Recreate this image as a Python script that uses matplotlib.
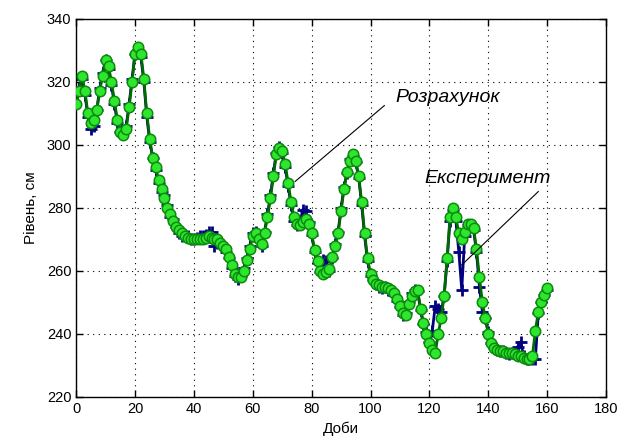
import matplotlib
matplotlib.use("Agg")
import matplotlib.pyplot as plt

# Days of observation
days = list(range(0, 161))

# Calculated level, cm ("Розрахунок")
calc = [
    313, 317, 322, 317, 310, 307, 308, 311, 317, 322,
    327, 325, 320, 314, 308, 304, 303, 305, 312, 320,
    329, 331, 329, 321, 310, 302, 296, 293, 289, 286,
    283, 280, 278, 276, 274, 273, 272, 271, 270.5, 270,
    270, 270, 270, 270, 270.5, 271, 270.5, 270, 270, 269,
    268, 267, 264.5, 262, 259, 258, 258, 260, 263.5, 267,
    271, 272, 270, 268.5, 272, 277, 283, 290, 297, 299,
    298, 294, 288, 282, 277, 275, 274.5, 275.5, 276.5, 275,
    272, 266.5, 263, 260, 259, 259.5, 260.5, 264.5, 268, 272,
    279, 286, 291.5, 295, 297, 295, 290, 282, 272, 264,
    259, 257, 256, 255.5, 255, 255, 254.5, 254, 253, 251,
    249, 246.5, 246, 249.5, 252, 253.5, 254, 248, 243.5, 240,
    237, 235, 234, 240, 245, 252, 264, 277, 280, 277,
    272, 270, 272.5, 275, 275, 273.5, 267, 258, 250, 245,
    240, 237, 235.5, 235, 234.5, 234.5, 234, 234, 234, 233.5,
    233, 233, 232.5, 232, 232, 233, 241, 247, 250, 252.5,
    254.5,
]

# Measured level, cm ("Експеримент")
expt = [
    316, 318, 321, 316, 309, 305, 306, 311, 318, 323,
    327, 324, 319, 313, 307, 304, 304, 306, 313, 321,
    329, 330, 328, 320, 309, 301, 296, 292, 288, 285,
    284, 281, 277, 276.5, 274, 272, 271, 271.5, 271, 270,
    270, 270.5, 271, 271, 271.5, 272.5, 272.5, 268, 269, 268.5,
    268, 266, 264, 261, 258.5, 257.5, 258.5, 261, 264, 268,
    272, 272.5, 269.5, 268, 272.5, 278, 284, 291, 297.5, 299.5,
    297.5, 293, 287, 281, 276, 274.5, 275, 279.5, 279, 275.5,
    271.5, 266, 262.5, 259.5, 263.5, 263, 260, 264, 268.5, 272.5,
    280, 286.5, 291, 295.5, 296.5, 294.5, 289.5, 281, 271, 263,
    258.5, 257, 256, 255, 254.5, 255, 254, 253.5, 252.5, 250.5,
    248.5, 246, 246.5, 250, 253, 254, 253.5, 247.5, 243, 240.5,
    237.5, 241, 249, 248, 247, 252, 263, 276, 279.5, 276,
    266, 254, 271, 274.5, 274.5, 273, 266, 255, 247, 245,
    240.5, 237, 235.5, 235, 234.5, 234.5, 234, 233.5, 234, 234,
    236, 237.5, 233, 232, 232, 232, 232, 246.5, 250, 252.5,
    254,
]

plt.rcParams["font.family"] = ["Liberation Sans", "DejaVu Sans"]

fig = plt.figure(figsize=(6.19, 4.41), dpi=100)
ax = fig.add_axes([0.123, 0.10, 0.856, 0.857])

# Experiment underneath, calculation on top
ax.plot(days, expt, color="#000080", linewidth=2.0, marker="+",
        markersize=9, markeredgewidth=2.0, zorder=2)
ax.plot(days, calc, color="#006a00", linewidth=2.0, marker="o",
        markersize=7.5, markerfacecolor="#2ee62e", markeredgecolor="#0b8a0b",
        markeredgewidth=1.1, zorder=3)

ax.set_xlim(0, 180)
ax.set_ylim(220, 340)
ax.set_xticks(range(0, 181, 20))
ax.set_yticks(range(220, 341, 20))
ax.grid(True, color="black", linestyle=(0, (1, 4)), linewidth=0.8)
ax.tick_params(direction="in", length=5, labelsize=10.5, top=True, right=True,
               width=1.0)
for s in ax.spines.values():
    s.set_linewidth(1.0)

ax.set_xlabel("Доби", fontsize=11, labelpad=4)
ax.set_ylabel("Рівень, см", fontsize=11, labelpad=6)

# Annotations
ax.plot([74.4, 104.7], [288.4, 312.5], color="black", linewidth=0.8, zorder=4)
ax.text(108.3, 315.2, "Розрахунок", fontsize=14, style="italic",
        ha="left", va="center", zorder=5)
ax.plot([131.0, 157.0], [261.9, 285.2], color="black", linewidth=0.8, zorder=4)
ax.text(118.3, 289.2, "Експеримент", fontsize=14, style="italic",
        ha="left", va="center", zorder=5)

fig.savefig("out.png", dpi=100)
